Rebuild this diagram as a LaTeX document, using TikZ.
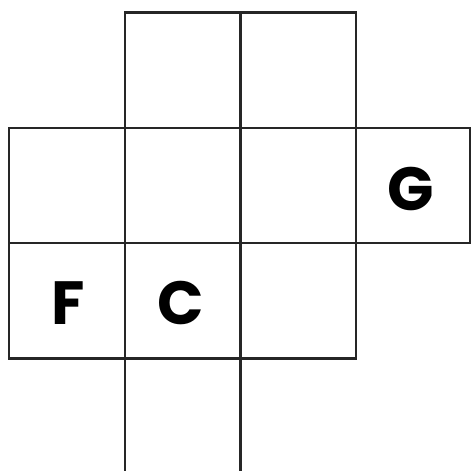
\documentclass[tikz,border=0pt]{standalone}
\usepackage{fontspec}
\setmainfont{Poppins}[BoldFont={* Bold}]
\newfontfamily\letterfont{Poppins Bold}
\begin{document}
\begin{tikzpicture}[x=1pt,y=-1pt,
  gridline/.style={line width=2.2pt,draw=black!85,line cap=rect},
  letter/.style={font=\letterfont\fontsize{61}{61}\selectfont,inner sep=0pt,text=black}]
\useasboundingbox (0,0) rectangle (471,471);
% top row and vertical lines
\draw[gridline] (125,358.5) -- (125,12.5) -- (356,12.5) -- (356,358.5);
\draw[gridline] (240.5,12.5) -- (240.5,471);
\draw[gridline] (125,358.5) -- (125,471);
% middle rows
\draw[gridline] (9,128) -- (470,128) -- (470,243) -- (9,243);
\draw[gridline] (9,128) -- (9,358.5) -- (356,358.5);
% letters
\node[letter] (G) at (410.5,189) {G};
\node[letter] (F) at (68.5,303) {F};
\node[letter] (C) at (181,303) {C};
\end{tikzpicture}
\end{document}
